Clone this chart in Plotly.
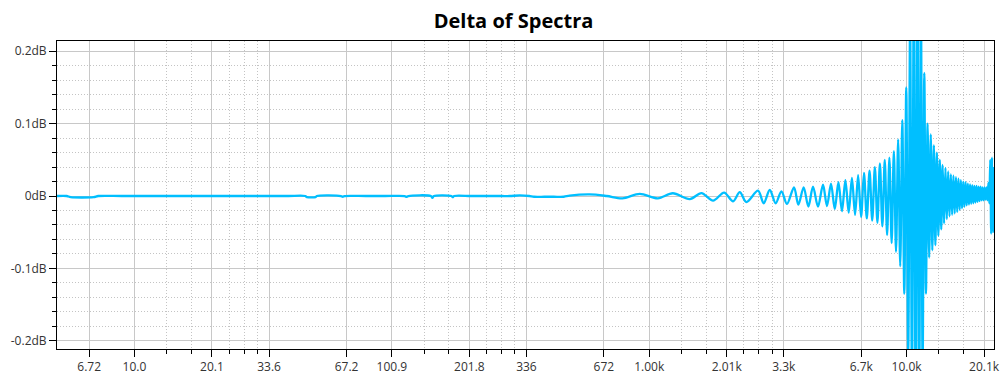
import math
import plotly.graph_objects as go

# ---- data ----
flat_hz = [5.045, 5.5, 5.7, 7.0, 7.3, 9.0, 12.0, 16.0, 21.0, 27.0, 34.0, 40.0,
           46.5, 47.2, 51.0, 51.6, 64.0, 65.0, 66.0, 80.0, 95.0,
           113.0, 115.0, 117.0, 143.0, 145.0, 147.0, 172.0, 174.0, 176.0,
           205.0, 240.0, 270.0, 290.0, 317.0, 345.0, 360.0, 395.0, 430.0,
           470.0, 495.0, 592.0, 690.0, 794.0,
           927.0, 1090.0, 1246.0, 1450.0]
flat_db = [0.0, 0.0, -0.0015, -0.0015, 0.0, 0.0, 0.0, 0.0, 0.0, 0.0, 0.0, 0.0,
           0.0, -0.0015, -0.0015, 0.0, 0.0, -0.001, 0.0, 0.0, 0.0,
           0.0, -0.0012, 0.0, 0.0, -0.0025, 0.0, 0.0, -0.0015, 0.0,
           0.0, 0.0, 0.0, 0.0, 0.0008, 0.0, -0.001, -0.001, -0.001,
           -0.001, 0.0005, 0.0022, 0.0, -0.0032,
           0.003, -0.0032, 0.0038, -0.0042]

ripple_hz = [1610, 1786, 1971, 2136, 2268, 2407, 2671, 2810, 2966, 3128,
             3292, 3460, 3684, 3831, 4017, 4190, 4367, 4566, 4775, 4948,
             5130, 5306, 5482, 5658, 5834, 6010, 6186, 6362, 6538, 6714,
             6890, 7066, 7242, 7418, 7594, 7770, 7946, 8122, 8298, 8474,
             8650, 8826, 9002, 9178, 9354, 9530, 9706, 9882, 10058, 10234,
             10410, 10586, 10762, 10938, 11114, 11290, 11466, 11642, 11818, 11994,
             12170, 12346, 12522, 12698, 12874, 13050, 13226, 13402, 13578, 13754,
             13930, 14106, 14282, 14458, 14634, 14810, 14986, 15162, 15338, 15514,
             15690, 15866, 16042, 16218, 16394, 16570, 16746, 16922, 17098, 17274,
             17450, 17626, 17802, 17978, 18154, 18330, 18506, 18682, 18858, 19034,
             19210, 19386, 19562, 19738, 19914, 20090, 20266, 20442, 20618, 20794,
             20970, 21146, 21322, 21498, 21674, 21850, 22026]
ripple_db = [0.004, -0.0065, 0.0046, -0.0073, 0.0055, -0.0083, 0.0073, -0.010, 0.0083, -0.010,
             0.0065, -0.011, 0.012, -0.012, 0.012, -0.0147, 0.0129, -0.0147, 0.0156, -0.0138,
             0.017, -0.018, 0.019, -0.021, 0.022, -0.023, 0.025, -0.026, 0.029, -0.029,
             0.032, -0.031, 0.035, -0.034, 0.040, -0.037, 0.045, -0.042, 0.050, -0.054,
             0.053, -0.065, 0.062, -0.077, 0.078, -0.097, 0.105, -0.135, 0.15, -0.22,
             0.24, -0.27, 0.30, -0.30, 0.30, -0.29, 0.27, -0.24, 0.17, -0.135,
             0.10, -0.085, 0.085, -0.075, 0.07, -0.068, 0.06, -0.055, 0.05, -0.046,
             0.043, -0.038, 0.039, -0.032, 0.034, -0.028, 0.030, -0.026, 0.028, -0.024,
             0.026, -0.022, 0.024, -0.019, 0.022, -0.017, 0.020, -0.015, 0.019, -0.013,
             0.017, -0.012, 0.016, -0.011, 0.015, -0.010, 0.014, -0.009, 0.014, -0.008,
             0.013, -0.007, 0.013, -0.006, 0.012, -0.006, 0.012, -0.005, 0.012, -0.006,
             0.018, -0.010, 0.050, -0.052, 0.053, -0.050, 0.040]

x_tick_vals = [6.7266, 10.09, 20.18, 33.633, 67.266, 100.9, 201.8, 336.33, 672.66,
               1009.0, 2018.0, 3363.3, 6726.6, 10090.0, 20180.0]
x_tick_text = ["6.72", "10.0", "20.1", "33.6", "67.2", "100.9", "201.8", "336", "672",
               "1.00k", "2.01k", "3.3k", "6.7k", "10.0k", "20.1k"]
x_minor_vals = [13.453, 16.817, 23.543, 26.906, 30.27,
                134.53, 168.17, 235.43, 269.06, 302.7,
                1345.3, 1681.7, 2354.3, 2690.6, 3027.0,
                13453.0, 16817.0]
y_tick_vals = [-0.2, -0.1, 0.0, 0.1, 0.2]
y_tick_text = ["-0.2dB", "-0.1dB", "0dB", "0.1dB", "0.2dB"]
y_minor_vals = [-0.18, -0.16, -0.14, -0.12, -0.08, -0.06, -0.04, -0.02,
                0.02, 0.04, 0.06, 0.08, 0.12, 0.14, 0.16, 0.18]

x_range_hz = [5.045, 22050.0]
y_range_db = [-0.2114, 0.2142]

freq = flat_hz + ripple_hz
delta = flat_db + ripple_db

font_fam = "Segoe UI, Open Sans, sans-serif"
grid_major = "#c8c8c8"
grid_minor = "#c4c4c4"
dot_pattern = "1px,2px"
x_log_range = [math.log10(x_range_hz[0]), math.log10(x_range_hz[1])]

fig = go.Figure()
# empty helper trace so the overlay axis with the minor ticks is drawn
fig.add_trace(go.Scatter(x=[x_range_hz[0]], y=[None], xaxis="x2", yaxis="y",
                         mode="lines", hoverinfo="skip", showlegend=False))
fig.add_trace(go.Scatter(x=freq, y=delta, mode="lines",
                         line=dict(color="#00BFFF", width=2.3, shape="spline",
                                   smoothing=0.9),
                         hoverinfo="skip", showlegend=False))

fig.update_layout(
    width=1002, height=385,
    margin=dict(l=57, r=8, t=41, b=36, autoexpand=False),
    paper_bgcolor="white", plot_bgcolor="white",
    title=dict(text="<b>Delta of Spectra</b>", x=0.5125, xref="container",
               xanchor="center", y=1 - 21 / 385, yref="container", yanchor="middle",
               font=dict(family=font_fam, size=20, color="#000000")),
    font=dict(family=font_fam, size=12, color="#333333"),
    xaxis=dict(
        type="log", range=x_log_range, automargin=False,
        tickmode="array", tickvals=x_tick_vals, ticktext=x_tick_text,
        ticks="outside", ticklen=7, tickcolor="#000000", tickwidth=1,
        showgrid=True, gridcolor=grid_major, gridwidth=1,
        showline=True, linecolor="#000000", linewidth=1, mirror=True,
        zeroline=False,
        tickfont=dict(family=font_fam, size=12, color="#333333"),
    ),
    xaxis2=dict(
        type="log", range=x_log_range, overlaying="x", side="bottom",
        anchor="y", automargin=False,
        tickmode="array", tickvals=x_minor_vals, showticklabels=False,
        ticks="outside", ticklen=4, tickcolor="#000000", tickwidth=1,
        showgrid=True, gridcolor=grid_minor, griddash=dot_pattern, gridwidth=1,
        showline=False, zeroline=False,
    ),
    yaxis=dict(
        range=y_range_db, automargin=False,
        tickmode="array", tickvals=y_tick_vals, ticktext=y_tick_text,
        ticks="outside", ticklen=7, tickcolor="#000000", tickwidth=1,
        showgrid=True, gridcolor=grid_major, gridwidth=1,
        showline=True, linecolor="#000000", linewidth=1, mirror=True,
        zeroline=False,
        minor=dict(tickmode="array", tickvals=y_minor_vals, ticks="outside", ticklen=4,
                   tickcolor="#000000", showgrid=True, gridcolor=grid_minor,
                   griddash=dot_pattern, gridwidth=1),
        tickfont=dict(family=font_fam, size=12, color="#333333"),
    ),
)

fig.write_html("out.html",
               config={"displayModeBar": False},
               post_script="document.body.style.margin='0px';"
                           "document.body.style.overflow='hidden';")
